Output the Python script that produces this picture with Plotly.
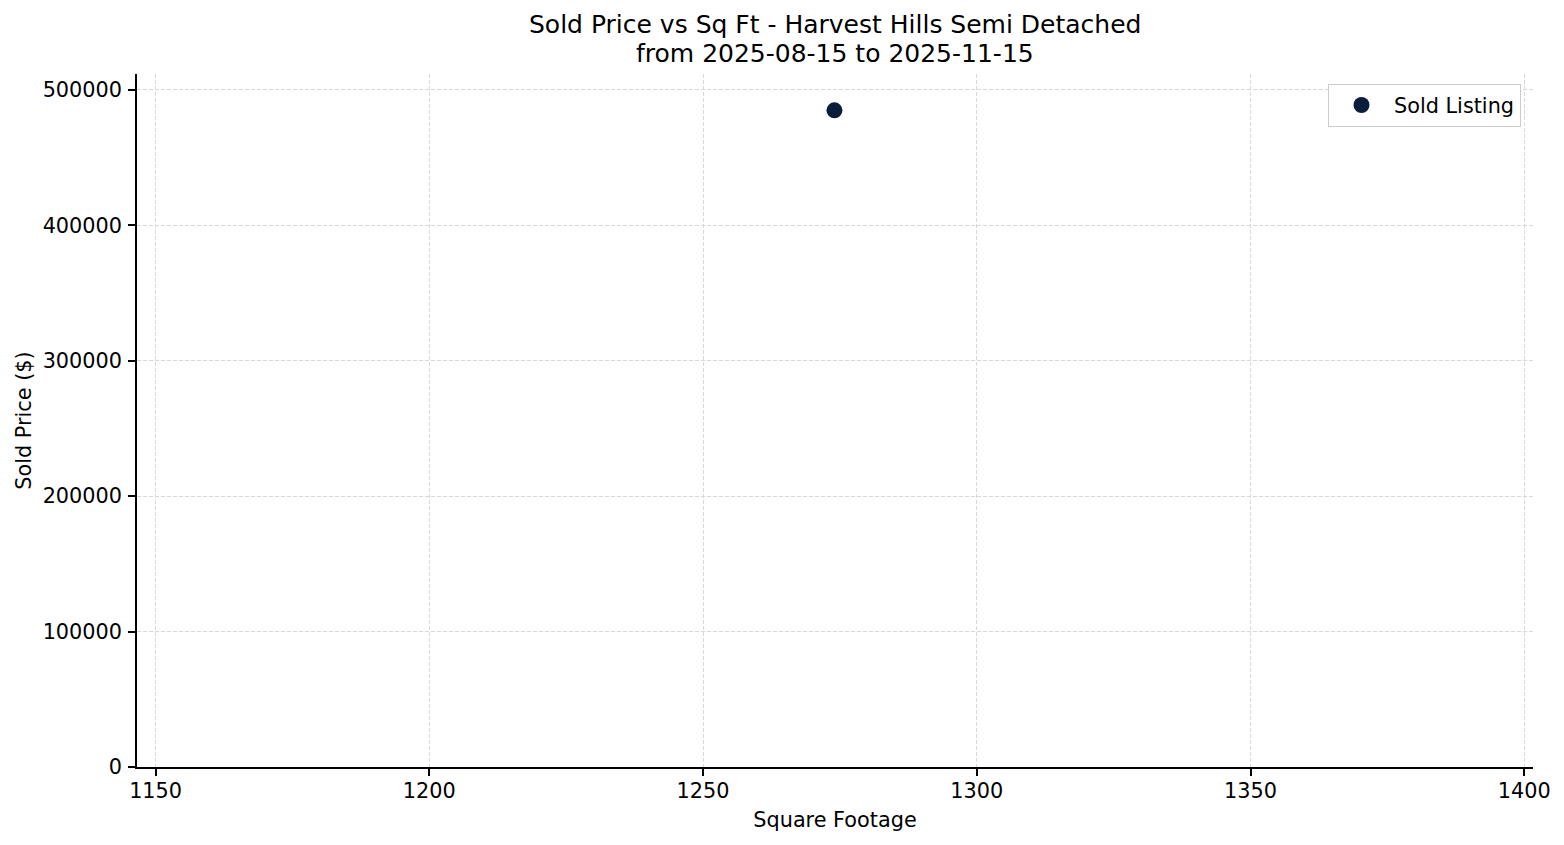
import plotly.graph_objects as go

# Data
sq_ft = [1274]
sold_price = [485000]
series_name = "Sold Listing"
title_lines = ["Sold Price vs Sq Ft - Harvest Hills Semi Detached",
               "from 2025-08-15 to 2025-11-15"]
x_label = "Square Footage"
y_label = "Sold Price ($)"
x_range = [1146.6, 1401.6]
y_range = [0, 511800]

# page body has an 8px default margin; compensate so plot area lands at 137..1533 x 74..767
OFF = 8
W, H = 1564 - OFF, 845 - OFF
L, T = 137 - OFF, 74 - OFF
R = W - L - 1396
B = H - T - 693
plot_h = H - T - B
plot_w = W - L - R

FONT = "DejaVu Sans"
fs = 20.8

fig = go.Figure()
fig.add_trace(go.Scatter(
    x=sq_ft, y=sold_price, mode="markers", name=series_name,
    marker=dict(size=16, color="#0a1e3c"),
    showlegend=True,
))

def py(ypx):  # ypx in page pixels
    return (H - B - (ypx - OFF)) / plot_h

def px(xpx):
    return ((xpx - OFF) - L) / plot_w

axis_common = dict(
    showline=True, linecolor="black", linewidth=1.6, mirror=False,
    ticks="outside", ticklen=7, tickwidth=1.6, tickcolor="black",
    showgrid=True, gridcolor="#d9d9d9", gridwidth=0.8, griddash="4px,2px",
    zeroline=False, tickfont=dict(family=FONT, size=fs, color="black"),
)

fig.update_layout(
    width=W, height=H,
    margin=dict(l=L, r=R, t=T, b=B),
    paper_bgcolor="white", plot_bgcolor="white",
    font=dict(family=FONT, size=fs, color="black"),
    xaxis=dict(range=x_range, dtick=50, tick0=1150, tickformat="d",
               title=dict(text=x_label, font=dict(family=FONT, size=fs), standoff=11),
               ticklabelstandoff=-3,
               **axis_common),
    yaxis=dict(range=y_range, dtick=100000, tick0=0, tickformat="d",
               title=dict(text=y_label, font=dict(family=FONT, size=fs), standoff=5),
               ticklabelstandoff=2,
               **axis_common),
    legend=dict(x=px(1521), xanchor="right",
                y=py(84), yanchor="top",
                itemwidth=55,
                bordercolor="#cccccc", borderwidth=1, bgcolor="white",
                font=dict(family=FONT, size=fs, color="black")),
    showlegend=True,
)

for txt, ypx in zip(title_lines, [25, 53]):
    fig.add_annotation(text=txt, xref="paper", yref="paper", x=0.5, y=py(ypx),
                       xanchor="center", yanchor="middle", showarrow=False,
                       font=dict(family=FONT, size=25, color="black"))

fig.write_html("out.html")
